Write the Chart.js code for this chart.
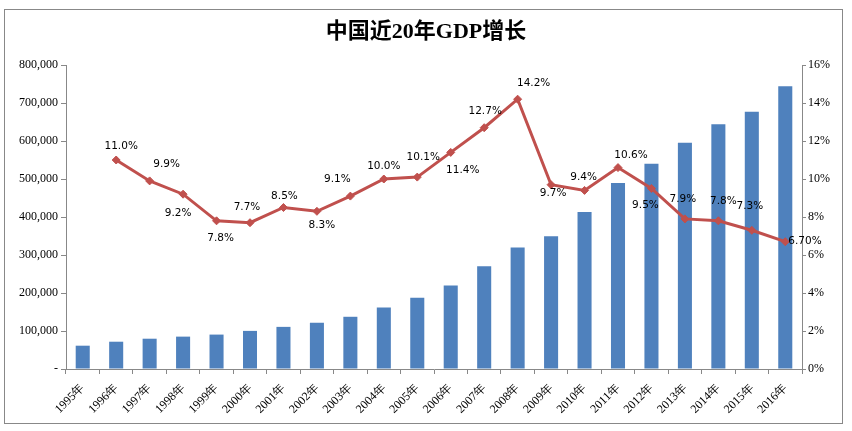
<!DOCTYPE html>
<html>
<head>
<meta charset="utf-8">
<script src="https://cdn.jsdelivr.net/npm/chart.js@4.4.1/dist/chart.umd.min.js"></script>
<style>
  html, body { margin: 0; padding: 0; background: #fff; }
  #wrap { position: relative; width: 852px; height: 431px; }
  #frame { position: absolute; left: 4px; top: 9px; width: 837px; height: 413px; border: 1px solid #888; pointer-events: none; }
  canvas { position: absolute; left: 0; top: 0; }
</style>
</head>
<body>
<div id="wrap">
  <canvas id="c" width="852" height="431"></canvas>
  <div id="frame"></div>
</div>
<script>
// ---- data ----
const years = ['1995年','1996年','1997年','1998年','1999年','2000年','2001年','2002年','2003年','2004年','2005年',
               '2006年','2007年','2008年','2009年','2010年','2011年','2012年','2013年','2014年','2015年','2016年'];
const gdp = [61340, 71814, 79715, 85196, 90564, 100280, 110863, 121717, 137422, 161840, 187319,
             219439, 270232, 319516, 349081, 413030, 489301, 540367, 595244, 643974, 676708, 744127];
const growth = [null, 11.0, 9.9, 9.2, 7.8, 7.7, 8.5, 8.3, 9.1, 10.0, 10.1,
                11.4, 12.7, 14.2, 9.7, 9.4, 10.6, 9.5, 7.9, 7.8, 7.3, 6.7];
const growthText = ['', '11.0%', '9.9%', '9.2%', '7.8%', '7.7%', '8.5%', '8.3%', '9.1%', '10.0%', '10.1%',
                    '11.4%', '12.7%', '14.2%', '9.7%', '9.4%', '10.6%', '9.5%', '7.9%', '7.8%', '7.3%', '6.70%'];
const leftTicks = [0, 100000, 200000, 300000, 400000, 500000, 600000, 700000, 800000];
const rightTicks = [0, 2, 4, 6, 8, 10, 12, 14, 16];
const chartTitle = '中国近20年GDP增长';

// label offsets (style only, relative to each point, in px)
const labelDX = [0, 5, 17, -5, 4, -3, 1, 5, -13, 0, 6, 12, 1, 16, 2, -1, 13, -6, -2, 5, -2, 20];
const labelDY = [0, -14, -17, 19, 17, -15, -11, 14, -17, -13, -20, 18, -16, -16, 9, -13, -12, 17, -20, -20, -24, 0];

const axisColor = '#888';
const tickFont = { family: '"Liberation Serif", "Times New Roman", serif', size: 12 };

const labelPlugin = {
  id: 'pointLabels',
  afterDatasetsDraw(chart) {
    const ctx = chart.ctx;
    const meta = chart.getDatasetMeta(0);
    ctx.save();
    ctx.font = '10.5px "DejaVu Sans", Verdana, sans-serif';
    ctx.fillStyle = '#000';
    ctx.textBaseline = 'middle';
    meta.data.forEach((pt, i) => {
      if (growth[i] === null) return;
      const last = i === growth.length - 1;
      ctx.textAlign = last ? 'left' : 'center';
      const x = pt.x + labelDX[i] + (last ? -17 : 0);
      ctx.fillText(growthText[i], x, pt.y + labelDY[i]);
    });
    ctx.restore();
  }
};

new Chart(document.getElementById('c'), {
  data: {
    labels: years,
    datasets: [
      {
        type: 'line',
        label: 'GDP增长率',
        data: growth,
        yAxisID: 'y1',
        borderColor: '#C0504D',
        backgroundColor: '#C0504D',
        borderWidth: 3,
        pointStyle: 'rectRot',
        pointRadius: 4,
        pointBorderWidth: 1,
        tension: 0,
        order: 0
      },
      {
        type: 'bar',
        label: 'GDP',
        data: gdp,
        yAxisID: 'y',
        backgroundColor: '#4F81BD',
        barPercentage: 0.42,
        categoryPercentage: 1,
        order: 1
      }
    ]
  },
  options: {
    responsive: false,
    animation: false,
    layout: { padding: { left: 0, right: 0, top: 0, bottom: 0 } },
    plugins: {
      legend: { display: false },
      tooltip: { enabled: false },
      title: {
        display: true,
        text: chartTitle,
        color: '#000',
        font: { family: '"Liberation Serif", "Noto Sans CJK SC", serif', size: 22, weight: 'bold' },
        padding: { top: 19, bottom: 19.6 }
      }
    },
    scales: {
      x: {
        offset: true,
        grid: { offset: true, drawOnChartArea: false, drawTicks: true, tickLength: 5, color: axisColor },
        border: { color: axisColor },
        ticks: { color: '#000', font: tickFont, minRotation: 45, maxRotation: 45, autoSkip: false, padding: 7 },
        afterFit(s) { s.height = 62; }
      },
      y: {
        position: 'left',
        min: 0, max: 800000,
        afterBuildTicks(s) { s.ticks = leftTicks.map(v => ({ value: v })); },
        grid: { drawOnChartArea: false, drawTicks: true, tickLength: 5, color: axisColor },
        border: { color: axisColor },
        ticks: {
          color: '#000', font: tickFont, padding: 3,
          callback: v => v === 0 ? '-' : v.toLocaleString('en-US')
        },
        afterFit(s) { s.width = 66; }
      },
      y1: {
        position: 'right',
        min: 0, max: 16,
        afterBuildTicks(s) { s.ticks = rightTicks.map(v => ({ value: v })); },
        grid: { drawOnChartArea: false, drawTicks: true, tickLength: 4, color: axisColor },
        border: { color: axisColor },
        ticks: { color: '#000', font: tickFont, padding: 2, callback: v => v + '%' },
        afterFit(s) { s.width = 50; }
      }
    }
  },
  plugins: [labelPlugin]
});
</script>
</body>
</html>
